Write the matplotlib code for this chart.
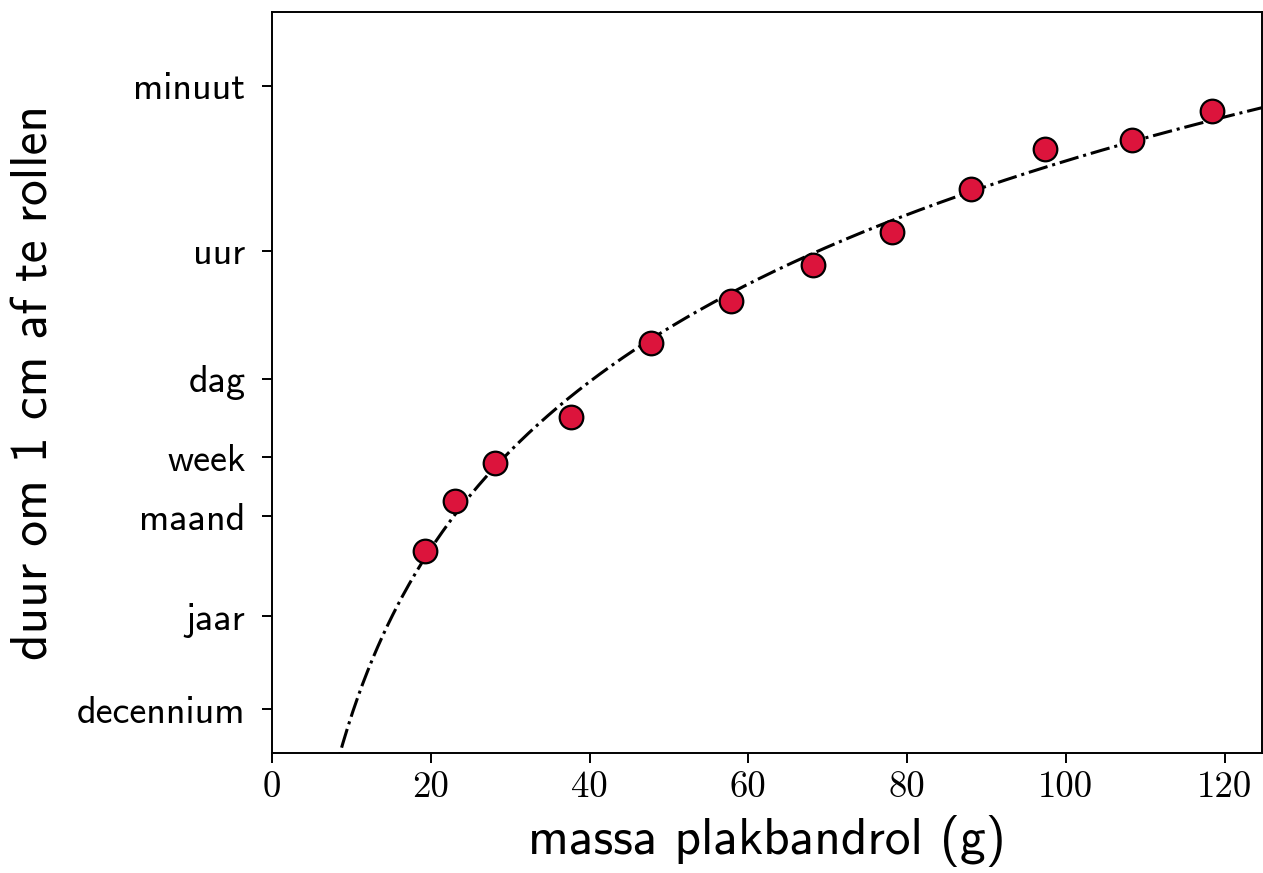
import numpy as np
import matplotlib
matplotlib.use("Agg")
import matplotlib.pyplot as plt

# --- data ---
mass_g = [19.3, 23.1, 28.1, 37.7, 47.8, 57.8, 68.2, 78.1, 88.0, 97.4, 108.3, 118.4]
duration_s = [6.22e6, 1.79e6, 6.95e5, 2.21e5, 3.58e4, 1.25e4, 5.12e3, 2.24e3,
              774, 289, 233, 112]

tick_labels = ["minuut", "uur", "dag", "week", "maand", "jaar", "decennium"]
tick_seconds = [60, 3600, 86400, 604800, 30.44 * 86400, 365.25 * 86400, 3652.5 * 86400]
x_ticks = [0, 20, 40, 60, 80, 100, 120]

# power-law fit (log-log) to the data
coef = np.polyfit(np.log10(mass_g), np.log10(duration_s), 1)
m_fit = np.linspace(1, 126, 600)
t_fit = 10 ** np.polyval(coef, np.log10(m_fit))

fig = plt.figure(figsize=(12.63, 8.73), dpi=100)
ax = fig.add_axes([272 / 1263, 1 - 753 / 873, (1262 - 272) / 1263, (753 - 12) / 873])

ax.plot(m_fit, t_fit, color="black", linestyle="-.", linewidth=2.2, zorder=2)
ax.plot(mass_g, duration_s, linestyle="none", marker="o", markersize=17,
        markerfacecolor="#DC143C", markeredgecolor="black", markeredgewidth=1.6, zorder=3)

ax.set_yscale("log")
ax.set_ylim(9.4e8, 9.6)
ax.set_xlim(0, 124.7)
ax.minorticks_off()
ax.set_yticks(tick_seconds)
ax.set_yticklabels(tick_labels, family="cmss10", fontsize=27.5)
ax.set_xticks(x_ticks)
ax.set_xticklabels([str(v) for v in x_ticks], family="cmr10", fontsize=26.5)

ax.tick_params(axis="y", length=7, width=1.4, pad=12)
ax.tick_params(axis="x", length=7, width=1.4, pad=6)
for s in ax.spines.values():
    s.set_linewidth(1.4)

ax.set_xlabel("massa plakbandrol (g)", family="cmss10", fontsize=37, labelpad=8)
ax.set_ylabel("duur om 1 cm af te rollen", family="cmss10", fontsize=37, labelpad=14)

fig.savefig("out.png", dpi=100)
